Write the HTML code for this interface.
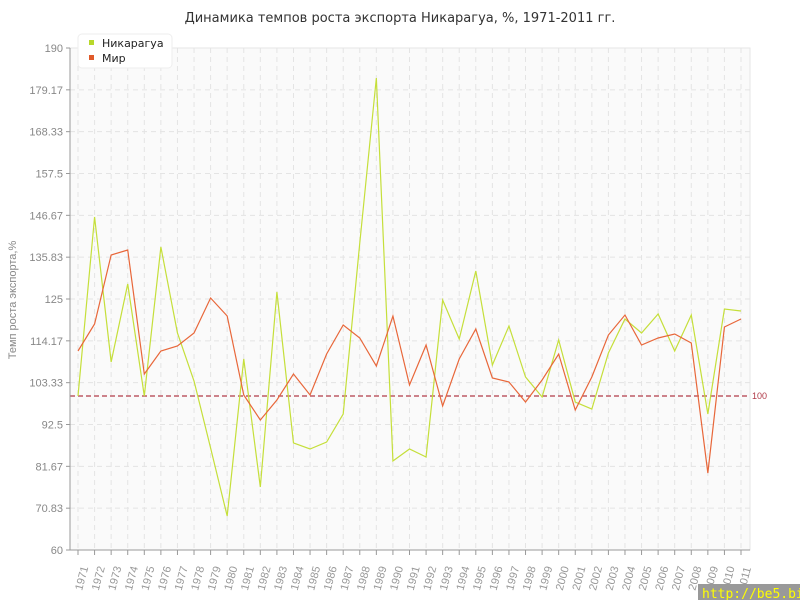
<!DOCTYPE html>
<html><head><meta charset="utf-8"><style>body{margin:0;background:#fff}svg{display:block;font-family:"Liberation Sans","DejaVu Sans",sans-serif}</style></head><body>
<svg width="800" height="600" xmlns="http://www.w3.org/2000/svg">
<rect width="800" height="600" fill="#fff"/>
<text x="400" y="22" text-anchor="middle" font-size="13" fill="#333" font-family="DejaVu Sans, sans-serif">Динамика темпов роста экспорта Никарагуа, %, 1971-2011 гг.</text>
<rect x="70" y="48" width="680" height="502" fill="#fafafa" stroke="#e6e6e6"/>
<g id="grid" stroke="#e4e4e4" stroke-dasharray="5,4" stroke-width="1"></g>
<line x1="70" y1="396" x2="750" y2="396" stroke="#b03a48" stroke-dasharray="5,3" stroke-width="1.2"/>
<text x="752" y="399" font-size="9" fill="#b03a48">100</text>
<line x1="70" y1="48" x2="70" y2="550" stroke="#999"/>
<line x1="70" y1="550" x2="750" y2="550" stroke="#999"/>
<g id="ylab" font-size="11" fill="#888" text-anchor="end"></g>
<g id="xlab" font-size="11" fill="#999"></g>
<text transform="translate(16,300) rotate(-90)" text-anchor="middle" font-size="11" fill="#888">Темп роста экспорта,%</text>
<polyline id="n" fill="none" stroke="#c5df3a" stroke-width="1.2"/>
<polyline id="m" fill="none" stroke="#e8673a" stroke-width="1.2"/>
<rect x="78" y="34" width="94" height="34" rx="4" fill="#fff" stroke="#eee"/>
<rect x="89" y="40" width="5" height="5" fill="#b8d82a"/>
<text x="102" y="47" font-size="11" fill="#222" font-family="DejaVu Sans, sans-serif">Никарагуа</text>
<rect x="89" y="55" width="5" height="5" fill="#e05a2a"/>
<text x="102" y="62" font-size="11" fill="#222" font-family="DejaVu Sans, sans-serif">Мир</text>
<rect x="698" y="584" width="102" height="16" fill="#999"/>
<text x="702" y="598" font-size="13" fill="#ffff00" font-family="DejaVu Sans Mono, monospace">http://be5.biz/</text>
</svg>
<script>
const ns="http://www.w3.org/2000/svg";
const N=[396,217,362,284,396,247,333,381,448,516,359,487,292,443,449,442,414,243,78,461,449,457,300,339,271,365,326,377,397,340,402,409,353,319,333,314,351,315,414,309,311];
const M=[351,324,255,250,374,351,346,333,298,316,395,420,400,374,395,354,325,338,366,316,385,345,406,359,329,378,382,402,380,354,410,377,335,315,345,338,334,343,473,327,319];
const X=i=>78+i*16.575;
document.getElementById('n').setAttribute('points',N.map((y,i)=>X(i)+','+y).join(' '));
document.getElementById('m').setAttribute('points',M.map((y,i)=>X(i)+','+y).join(' '));
const g=document.getElementById('grid'),yl=document.getElementById('ylab'),xl=document.getElementById('xlab');
const yt=["60","70.83","81.67","92.5","103.33","114.17","125","135.83","146.67","157.5","168.33","179.17","190"];
yt.forEach((t,i)=>{const y=550-i*502/12;
 if(i>0&&i<12){const l=document.createElementNS(ns,'line');l.setAttribute('x1',70);l.setAttribute('x2',750);l.setAttribute('y1',y);l.setAttribute('y2',y);g.appendChild(l);}
 const tx=document.createElementNS(ns,'text');tx.setAttribute('x',63);tx.setAttribute('y',y+4);tx.textContent=t;yl.appendChild(tx);
 const tk=document.createElementNS(ns,'line');tk.setAttribute('x1',66);tk.setAttribute('x2',70);tk.setAttribute('y1',y);tk.setAttribute('y2',y);tk.setAttribute('stroke','#999');document.querySelector('svg').appendChild(tk);});
for(let i=0;i<41;i++){const x=X(i);
 const l=document.createElementNS(ns,'line');l.setAttribute('x1',x);l.setAttribute('x2',x);l.setAttribute('y1',48);l.setAttribute('y2',550);g.appendChild(l);
 const tk=document.createElementNS(ns,'line');tk.setAttribute('x1',x);tk.setAttribute('x2',x);tk.setAttribute('y1',550);tk.setAttribute('y2',555);tk.setAttribute('stroke','#999');document.querySelector('svg').appendChild(tk);
 const t=document.createElementNS(ns,'text');t.setAttribute('transform',`translate(${x+4},${591}) rotate(-75)`);t.textContent=1971+i;xl.appendChild(t);}
</script>
</body></html>
